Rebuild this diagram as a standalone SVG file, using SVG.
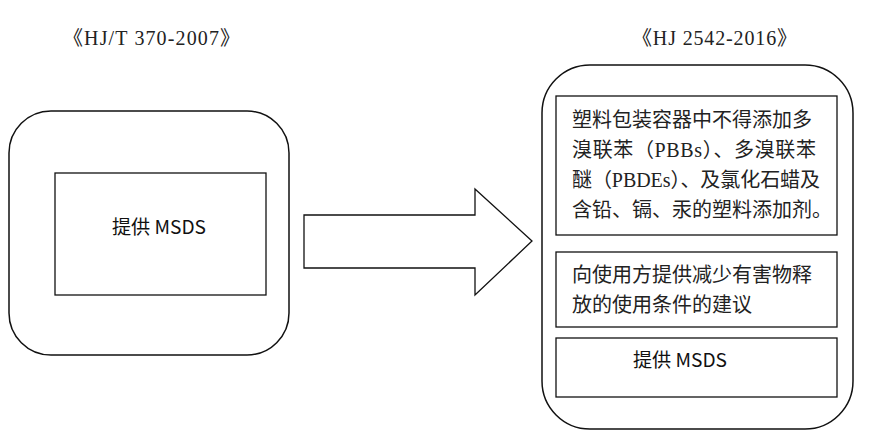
<svg xmlns="http://www.w3.org/2000/svg" width="869" height="441" viewBox="0 0 869 441">
<style>
.outer{fill:#fff;stroke:#111;stroke-width:1.5}
.inner{fill:#fff;stroke:#111;stroke-width:1.3}
.serif{font-family:"Liberation Serif","Noto Sans CJK SC",serif;font-size:20px;fill:#222}
.sans{font-family:"Noto Sans CJK SC","Noto Sans",sans-serif;font-size:20px;fill:#222}
.msds{font-family:"Noto Sans CJK SC","Noto Sans",sans-serif;font-size:19px;fill:#111}
.arrow{fill:#fff;stroke:#111;stroke-width:1.3;stroke-linejoin:miter}
</style>
<rect width="869" height="441" fill="#fff"/>
<g id="title-left">
<text class="serif" x="63" y="45" textLength="177" lengthAdjust="spacing">《HJ/T 370-2007》</text>
</g>
<g id="title-right">
<text class="serif" x="632" y="45" textLength="165" lengthAdjust="spacing">《HJ 2542-2016》</text>
</g>
<g id="left-group">
<rect class="outer" x="9" y="111" width="280" height="244" rx="42" ry="42"/>
<g id="left-msds">
<rect class="inner" x="55" y="173" width="211" height="122"/>
<text class="msds" x="112" y="234" textLength="94" lengthAdjust="spacingAndGlyphs">提供 MSDS</text>
</g>
</g>
<g id="connectors">
<polygon class="arrow" points="304,215 475,215 475,189 532,241 475,295 475,268 304,268"/>
</g>
<g id="right-group">
<rect class="outer" x="542" y="65" width="311" height="364" rx="48" ry="48"/>
<g id="right-additives">
<rect class="inner" x="556" y="96" width="281" height="139"/>
<text class="serif" x="572" y="127">塑料包装容器中不得添加多</text>
<text class="serif" x="572" y="157" textLength="244" lengthAdjust="spacing">溴联苯（PBBs）、多溴联苯</text>
<text class="serif" x="572" y="187" textLength="248" lengthAdjust="spacing">醚（PBDEs）、及氯化石蜡及</text>
<text class="serif" x="572" y="217">含铅、镉、汞的塑料添加剂。</text>
</g>
<g id="right-advice">
<rect class="inner" x="556" y="252" width="281" height="75"/>
<text class="sans" x="572" y="282">向使用方提供减少有害物释</text>
<text class="sans" x="572" y="312">放的使用条件的建议</text>
</g>
<g id="right-msds">
<rect class="inner" x="556" y="338" width="281" height="59"/>
<text class="msds" x="633" y="367" textLength="94" lengthAdjust="spacingAndGlyphs">提供 MSDS</text>
</g>
</g>
</svg>
